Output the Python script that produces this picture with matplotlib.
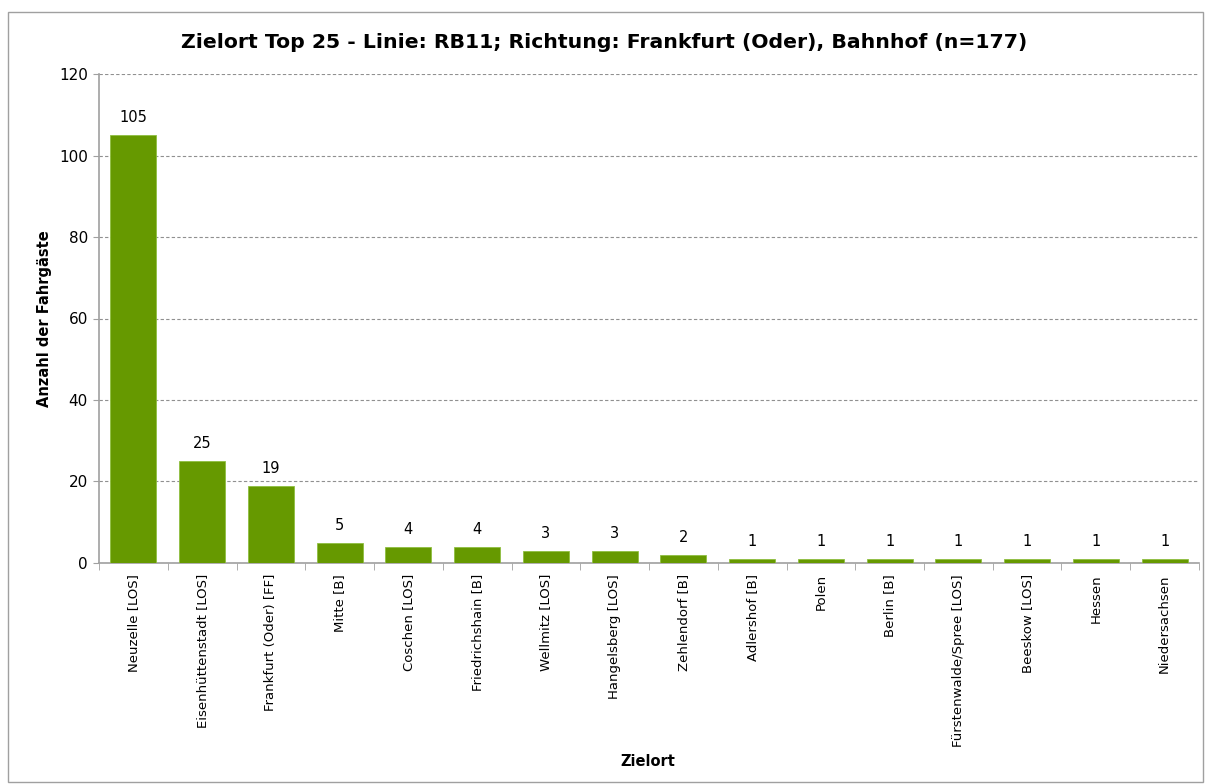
import numpy as np
import matplotlib.pyplot as plt
from matplotlib.patches import Rectangle

zielorte = ['Neuzelle [LOS]', 'Eisenhüttenstadt [LOS]', 'Frankfurt (Oder) [FF]', 'Mitte [B]',
            'Coschen [LOS]', 'Friedrichshain [B]', 'Wellmitz [LOS]', 'Hangelsberg [LOS]',
            'Zehlendorf [B]', 'Adlershof [B]', 'Polen', 'Berlin [B]',
            'Fürstenwalde/Spree [LOS]', 'Beeskow [LOS]', 'Hessen', 'Niedersachsen']
anzahl = [105, 25, 19, 5, 4, 4, 3, 3, 2, 1, 1, 1, 1, 1, 1, 1]
y_ticks = [0, 20, 40, 60, 80, 100, 120]

fig = plt.figure(figsize=(12.05, 7.84), dpi=100)
ax = fig.add_axes([0.0822, 0.2819, 0.9128, 0.6237])

x = np.arange(len(zielorte))
ax.bar(x, anzahl, width=0.67, color='#669900', edgecolor='#8fbf40', linewidth=0.6, zorder=3)
for xi, v in zip(x, anzahl):
    ax.annotate(str(v), (xi, v), xytext=(0, 7), textcoords='offset points',
                ha='center', va='bottom', fontsize=10.5)

ax.set_xlim(-0.5, len(zielorte) - 0.5)
ax.set_ylim(0, 120)
ax.set_yticks(y_ticks)
ax.tick_params(axis='y', labelsize=11, length=4, color='#a0a0a0', pad=4)
ax.set_xticks(x)
ax.set_xticklabels(zielorte, rotation=90, fontsize=9.5)
ax.tick_params(axis='x', length=0, pad=8)
ax.set_xticks(np.arange(-0.5, len(zielorte)), minor=True)
ax.tick_params(axis='x', which='minor', length=5, color='#a0a0a0')

ax.grid(axis='y', color='#909090', linestyle=(0, (3, 2)), linewidth=0.8, zorder=0)
for s in ['top', 'right']:
    ax.spines[s].set_visible(False)
for s in ['left', 'bottom']:
    ax.spines[s].set_color('#a0a0a0')
    ax.spines[s].set_linewidth(1.2)

ax.set_ylabel('Anzahl der Fahrgäste', fontsize=10.5, fontweight='bold', labelpad=5)
fig.text(648 / 1205, 1 - 761 / 784, 'Zielort', ha='center', va='center',
         fontsize=10.5, fontweight='bold')
fig.text(604 / 1205, 1 - 42 / 784,
         'Zielort Top 25 - Linie: RB11; Richtung: Frankfurt (Oder), Bahnhof (n=177)',
         ha='center', va='center', fontsize=14.7, fontweight='bold')

fig.patches.append(Rectangle((8 / 1205, 2 / 784), 1195 / 1205, 770 / 784,
                             transform=fig.transFigure, fill=False,
                             edgecolor='#a0a0a0', linewidth=1))

fig.savefig('out.png', dpi=100)
